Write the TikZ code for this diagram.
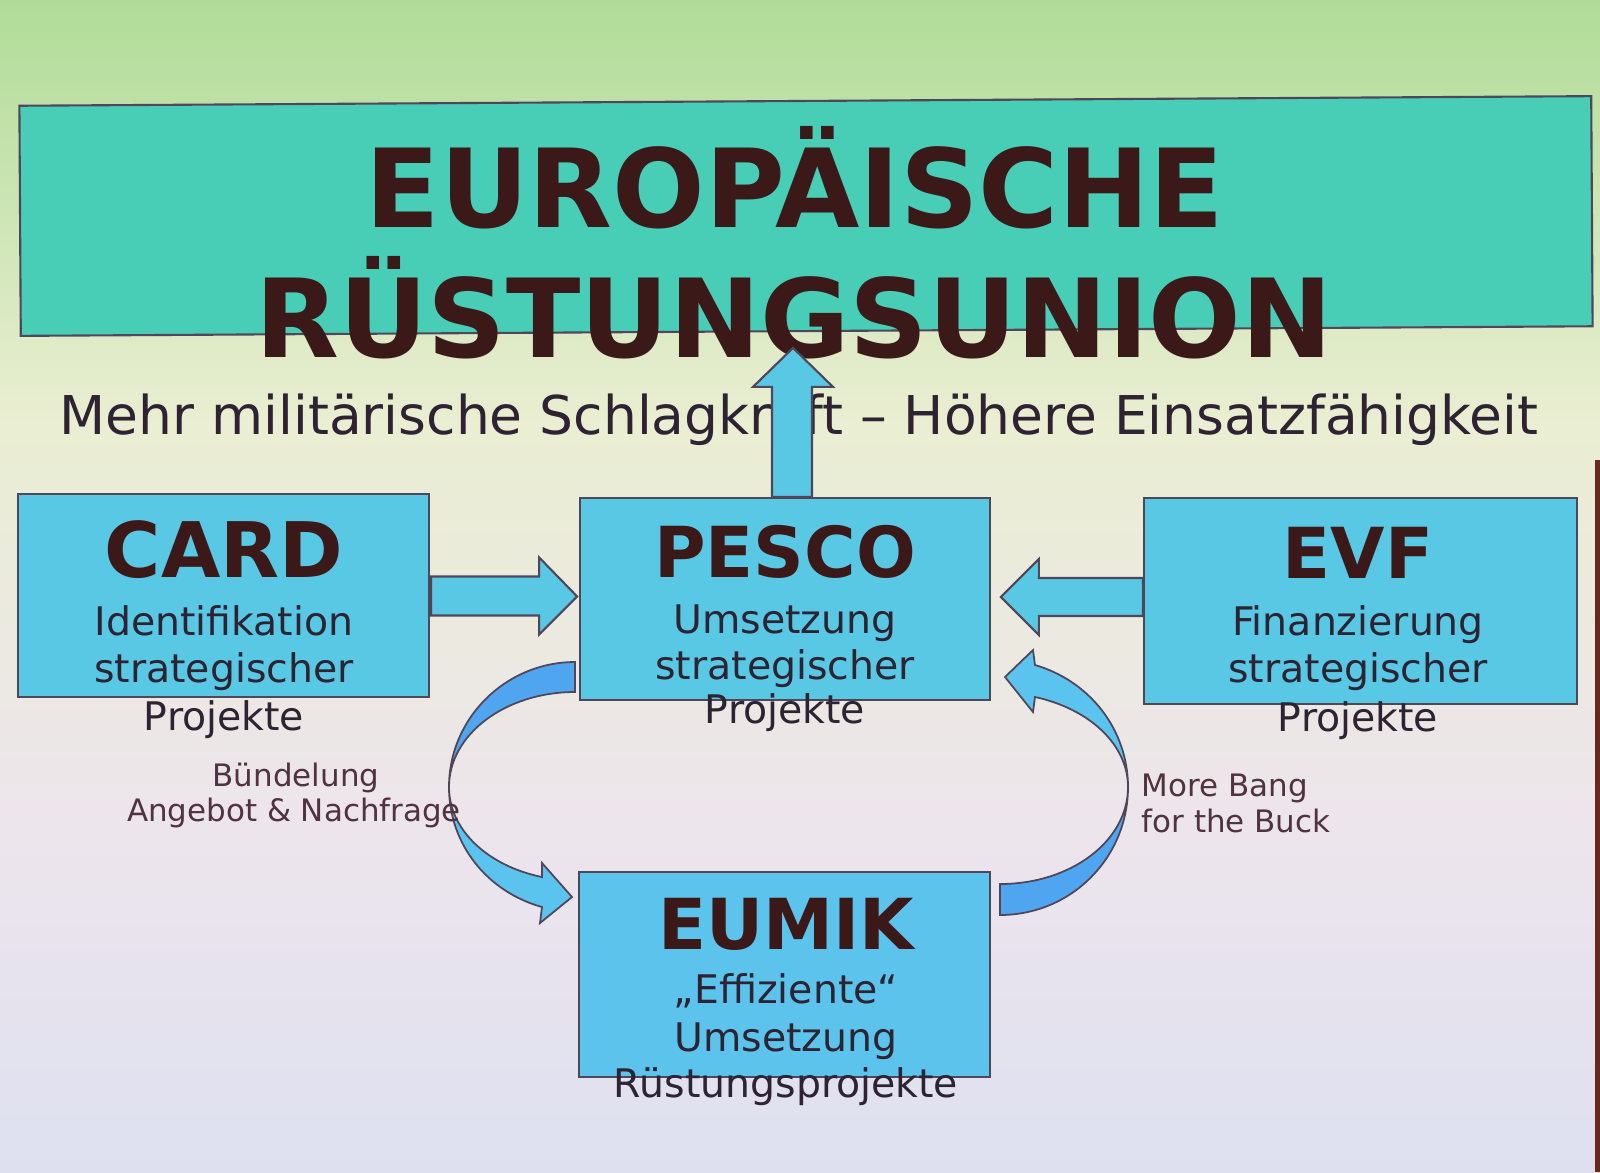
\documentclass[tikz,border=0pt]{standalone}
\usepackage{fontspec}
\setmainfont{DejaVu Sans}
\usetikzlibrary{positioning}
\definecolor{bgGruen}{RGB}{176,220,152}
\definecolor{bgHell}{RGB}{234,238,210}
\definecolor{bgRosa}{RGB}{237,229,236}
\definecolor{bgLila}{RGB}{222,224,240}
\definecolor{titelTeal}{RGB}{72,205,182}
\definecolor{kastenBlau}{RGB}{88,200,228}
\definecolor{eumikBlau}{RGB}{92,196,236}
\definecolor{bogenBlau}{RGB}{80,165,240}
\definecolor{bogenHell}{RGB}{90,195,238}
\definecolor{randGrau}{RGB}{80,70,90}
\definecolor{schriftBraun}{RGB}{60,25,25}
\definecolor{schriftGrau}{RGB}{45,35,50}
\definecolor{notizLila}{RGB}{80,50,65}
\definecolor{randBraun}{RGB}{105,40,30}

\begin{document}
\begin{tikzpicture}[x=0.01cm, y=-0.01cm,
    kasten/.style={draw=randGrau, line width=0.6pt, fill=kastenBlau, inner sep=0pt},
    titel/.style={font=\fontsize{31}{37}\selectfont\bfseries, text=schriftBraun, anchor=base},
    kopf/.style={font=\fontsize{20}{24}\selectfont\bfseries, text=schriftBraun, anchor=base},
    zeile/.style={font=\fontsize{11.2}{13}\selectfont, text=schriftGrau, anchor=base},
    notiz/.style={font=\fontsize{8.8}{10.5}\selectfont, text=notizLila, anchor=base, inner sep=0pt},
    blockpfeil/.style={draw=randGrau, line width=0.6pt, fill=kastenBlau, line join=miter},
    bogendunkel/.style={draw=randGrau, line width=0.5pt, fill=bogenBlau},
    bogenhell/.style={draw=randGrau, line width=0.5pt, fill=bogenHell}]
    \useasboundingbox (0,0) rectangle (1600,1172);

    % Hintergrund (Verlauf)
    \shade[top color=bgGruen, bottom color=bgHell] (0,0) rectangle (1600,421);
    \shade[top color=bgHell, bottom color=bgRosa] (0,420) rectangle (1600,821);
    \shade[top color=bgRosa, bottom color=bgLila] (0,820) rectangle (1600,1172);
    \fill[randBraun] (1595,460) rectangle (1600,1172);

    % Titel
    \node[kasten, fill=titelTeal, rotate=0.35, minimum width=15.71cm, minimum height=2.3cm] (union) at (806,216) {};
    \node[titel] (titel1) at (795,227) {EUROPÄISCHE};
    \node[titel] (titel2) at (794,357) {RÜSTUNGSUNION};
    \node[font=\fontsize{15.2}{18}\selectfont, text=schriftGrau, anchor=base] (claim) at (799,434) {Mehr militärische Schlagkraft – Höhere Einsatzfähigkeit};

    % Kaesten
    \node[kasten, minimum width=4.11cm, minimum height=2.03cm] (card) at (223.5,595.5) {};
    \node[kasten, minimum width=4.10cm, minimum height=2.02cm] (pesco) at (785,599) {};
    \node[kasten, minimum width=4.33cm, minimum height=2.06cm] (evf) at (1360.5,601) {};
    \node[kasten, fill=eumikBlau, minimum width=4.11cm, minimum height=2.05cm] (eumik) at (784.5,974.5) {};

    % Blockpfeile
    \draw[blockpfeil] (pesco.north) ++(-13,0) -- ++(0,-110) -- ++(-19,0) -- ++(40,-39) -- ++(40,39) -- ++(-21,0) -- ++(0,110) -- cycle;
    \draw[blockpfeil] (card.east) ++(1,-19) -- ++(108,0) -- ++(0,-19) -- ++(38,39) -- ++(-38,38) -- ++(0,-19) -- ++(-108,0) -- cycle;
    \draw[blockpfeil] (evf.west) ++(0,-23) -- ++(-104,0) -- ++(0,-19) -- ++(-38,38) -- ++(38,38) -- ++(0,-19) -- ++(104,0) -- cycle;

    % Bogenpfeil links (PESCO -> EUMIK)
    \draw[bogendunkel] (575,662) .. controls (506,662) and (449,718) .. (449,787)
        .. controls (449,734) and (506,692) .. (575,692) -- cycle;
    \draw[bogenhell] (449,787) .. controls (449,845) and (488,892) .. (542,907)
        -- (540,923) -- (572,897) -- (542,863) -- (542,877)
        .. controls (488,866) and (449,830) .. (449,787) -- cycle;

    % Bogenpfeil rechts (EUMIK -> PESCO)
    \draw[bogendunkel] (1000,915) .. controls (1071,915) and (1128,858) .. (1128,787)
        .. controls (1128,841) and (1071,884) .. (1000,884) -- cycle;
    \draw[bogenhell] (1128,787) .. controls (1128,730) and (1090,681) .. (1035,665)
        -- (1033,650) -- (1005,677) -- (1033,712) -- (1035,697)
        .. controls (1090,709) and (1128,745) .. (1128,787) -- cycle;

    % Texte CARD
    \node[kopf, font=\fontsize{21.8}{26}\selectfont\bfseries] (cardkopf) at (224,577) {CARD};
    \node[zeile] at (224,635) {Identifikation};
    \node[zeile] at (224,682) {strategischer};
    \node[zeile] at (224,730) {Projekte};

    % Texte PESCO
    \node[kopf] (pescokopf) at (785,577) {PESCO};
    \node[zeile] at (785,633) {Umsetzung};
    \node[zeile] at (785,679) {strategischer};
    \node[zeile] at (785,723) {Projekte};

    % Texte EVF
    \node[kopf] (evfkopf) at (1358,578) {EVF};
    \node[zeile] at (1358,635) {Finanzierung};
    \node[zeile] at (1358,682) {strategischer};
    \node[zeile] at (1358,731) {Projekte};

    % Texte EUMIK
    \node[kopf] (eumikkopf) at (786,949) {EUMIK};
    \node[zeile] at (786,1003) {„Effiziente“};
    \node[zeile] at (786,1051) {Umsetzung};
    \node[zeile] at (786,1097) {Rüstungsprojekte};

    % Beschriftung der Boegen
    \node[notiz] (buendel1) at (296,786) {Bündelung};
    \node[notiz] (buendel2) at (294,821) {Angebot \& Nachfrage};
    \node[notiz, anchor=base west] (bang1) at (1141,796) {More Bang};
    \node[notiz, anchor=base west] (bang2) at (1141,832) {for the Buck};
\end{tikzpicture}
\end{document}
